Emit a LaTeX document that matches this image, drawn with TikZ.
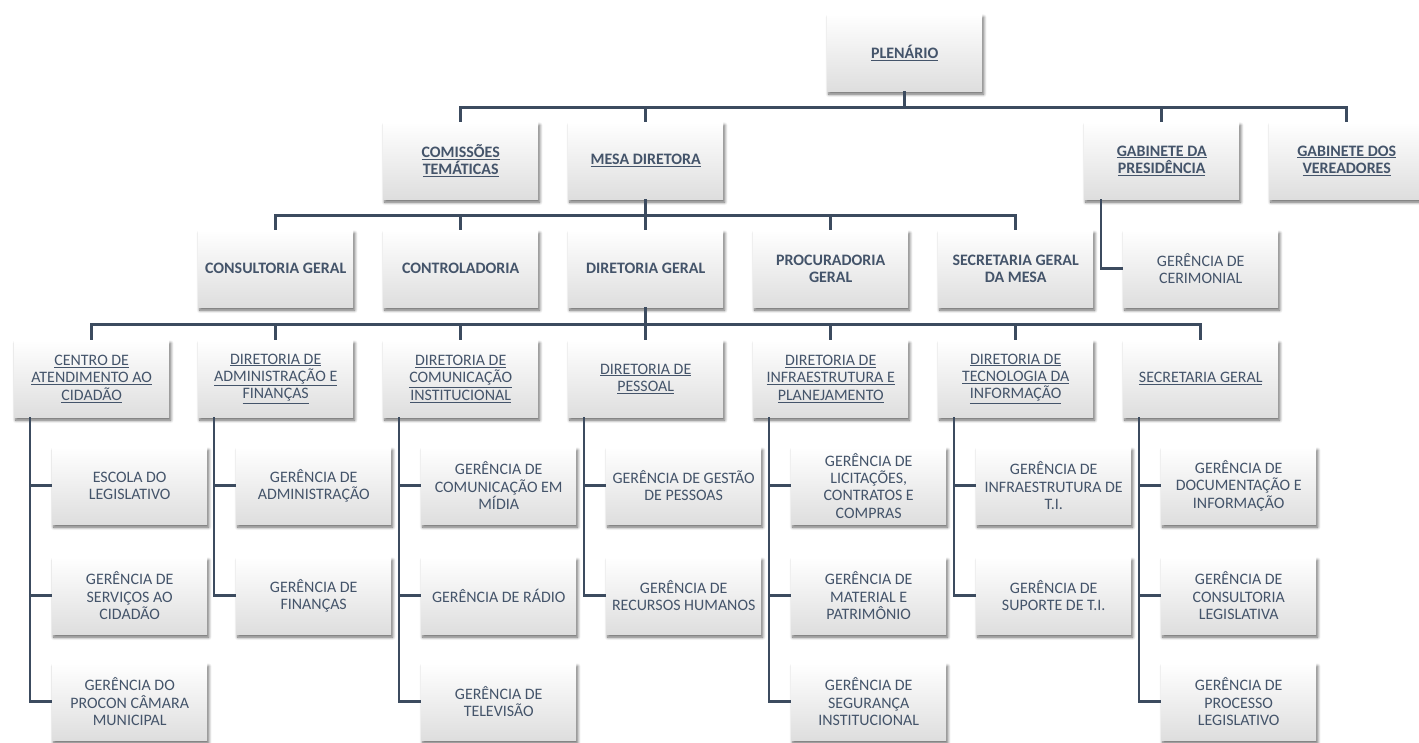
\documentclass[tikz,border=0pt]{standalone}
\usepackage{fontspec}
\setmainfont{Carlito}
\usetikzlibrary{shadows,shadows.blur}
\definecolor{txt}{HTML}{44546A}
\definecolor{ln}{HTML}{3C4B5F}
\newcommand{\ulx}[1]{\underline{#1}}
\tikzset{
  box/.style={anchor=north west, minimum width=155bp, minimum height=77bp, inner sep=0pt,
    align=center, text=txt, font=\fontsize{16}{17.5}\selectfont,
    top color=white, middle color=white, bottom color=black!13, draw=none,
    blur shadow={shadow xshift=1.5bp, shadow yshift=-3bp, shadow blur steps=6, shadow blur radius=3bp, shadow opacity=60}},
  boldbox/.style={box, font=\fontsize{16}{17.5}\selectfont\bfseries},
  conn/.style={draw=ln, line width=2.6bp}
}
\begin{document}
\begin{tikzpicture}[x=1bp,y=-1bp]
\useasboundingbox (0,0) rectangle (1419,742);
% level 1
\node[boldbox] (plen) at (827,14) {\ulx{PLENÁRIO}};
% level 2
\node[boldbox] (com) at (383,122) {\ulx{COMISSÕES}\\\ulx{TEMÁTICAS}};
\node[boldbox] (mesa) at (568,122) {\ulx{MESA DIRETORA}};
\node[boldbox] (gpres) at (1084,122) {\ulx{GABINETE DA}\\\ulx{PRESIDÊNCIA}};
\node[boldbox] (gver) at (1269,122) {\ulx{GABINETE DOS}\\\ulx{VEREADORES}};
% level 3
\node[boldbox] (cons) at (198,230) {CONSULTORIA GERAL};
\node[boldbox] (ctrl) at (383,230) {CONTROLADORIA};
\node[boldbox] (dg) at (568,230) {DIRETORIA GERAL};
\node[boldbox] (proc) at (753,230) {PROCURADORIA\\GERAL};
\node[boldbox] (sgm) at (938,230) {SECRETARIA GERAL\\DA MESA};
\node[box] (ceri) at (1123,230) {GERÊNCIA DE\\CERIMONIAL};
% level 4
\node[box] (d1) at (14,340) {\ulx{CENTRO DE}\\\ulx{ATENDIMENTO AO}\\\ulx{CIDADÃO}};
\node[box] (d2) at (198,340) {\ulx{DIRETORIA DE}\\\ulx{ADMINISTRAÇÃO E}\\\ulx{FINANÇAS}};
\node[box] (d3) at (383,340) {\ulx{DIRETORIA DE}\\\ulx{COMUNICAÇÃO}\\\ulx{INSTITUCIONAL}};
\node[box] (d4) at (568,340) {\ulx{DIRETORIA DE}\\\ulx{PESSOAL}};
\node[box] (d5) at (753,340) {\ulx{DIRETORIA DE}\\\ulx{INFRAESTRUTURA E}\\\ulx{PLANEJAMENTO}};
\node[box] (d6) at (938,340) {\ulx{DIRETORIA DE}\\\ulx{TECNOLOGIA DA}\\\ulx{INFORMAÇÃO}};
\node[box] (d7) at (1123,340) {\ulx{SECRETARIA GERAL}};
% level 5
\node[box] (d1a) at (52,447) {ESCOLA DO\\LEGISLATIVO};
\node[box] (d1b) at (52,557) {GERÊNCIA DE\\SERVIÇOS AO\\CIDADÃO};
\node[box] (d1c) at (52,663) {GERÊNCIA DO\\PROCON CÂMARA\\MUNICIPAL};
\node[box] (d2a) at (236,447) {GERÊNCIA DE\\ADMINISTRAÇÃO};
\node[box] (d2b) at (236,557) {GERÊNCIA DE\\FINANÇAS};
\node[box] (d3a) at (421,447) {GERÊNCIA DE\\COMUNICAÇÃO EM\\MÍDIA};
\node[box] (d3b) at (421,557) {GERÊNCIA DE RÁDIO};
\node[box] (d3c) at (421,663) {GERÊNCIA DE\\TELEVISÃO};
\node[box] (d4a) at (606,447) {GERÊNCIA DE GESTÃO\\DE PESSOAS};
\node[box] (d4b) at (606,557) {GERÊNCIA DE\\RECURSOS HUMANOS};
\node[box] (d5a) at (791,447) {GERÊNCIA DE\\LICITAÇÕES,\\CONTRATOS E\\COMPRAS};
\node[box] (d5b) at (791,557) {GERÊNCIA DE\\MATERIAL E\\PATRIMÔNIO};
\node[box] (d5c) at (791,663) {GERÊNCIA DE\\SEGURANÇA\\INSTITUCIONAL};
\node[box] (d6a) at (976,447) {GERÊNCIA DE\\INFRAESTRUTURA DE\\T.I.};
\node[box] (d6b) at (976,557) {GERÊNCIA DE\\SUPORTE DE T.I.};
\node[box] (d7a) at (1161,447) {GERÊNCIA DE\\DOCUMENTAÇÃO E\\INFORMAÇÃO};
\node[box] (d7b) at (1161,557) {GERÊNCIA DE\\CONSULTORIA\\LEGISLATIVA};
\node[box] (d7c) at (1161,663) {GERÊNCIA DE\\PROCESSO\\LEGISLATIVO};
% connectors
\begin{scope}[conn]
\foreach \c in {com,mesa,gpres,gver} \draw (plen.south) -- ++(0,16) -| (\c.north);
\foreach \c in {cons,ctrl,dg,proc,sgm} \draw (mesa.south) -- ++(0,16) -| (\c.north);
\draw ([xshift=17bp]gpres.south west) |- (ceri.west);
\foreach \c in {d1,d2,d3,d4,d5,d6,d7} \draw (dg.south) -- ++(0,17) -| (\c.north);
\foreach \p/\c in {d1/d1a,d1/d1b,d1/d1c,d2/d2a,d2/d2b,d3/d3a,d3/d3b,d3/d3c,d4/d4a,d4/d4b,d5/d5a,d5/d5b,d5/d5c,d6/d6a,d6/d6b,d7/d7a,d7/d7b,d7/d7c}
  \draw ([xshift=16bp]\p.south west) |- (\c.west);
\end{scope}
\end{tikzpicture}
\end{document}
